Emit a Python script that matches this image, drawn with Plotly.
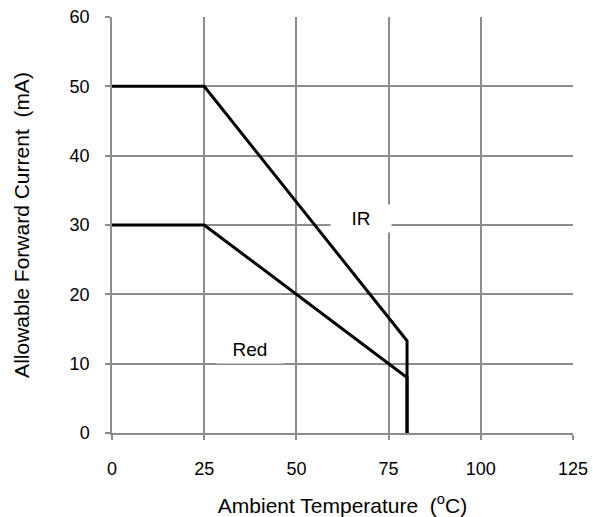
import plotly.graph_objects as go

ir_temp = [0, 25, 80, 80]
ir_current = [50, 50, 13.3, 0]
red_temp = [0, 25, 80, 80]
red_current = [30, 30, 8, 0]

x_ticks = [0, 25, 50, 75, 100, 125]
y_ticks = [0, 10, 20, 30, 40, 50, 60]

labels = ["IR", "Red"]
label_x = [67.5, 37.4]
label_y = [31.0, 12.0]

FONT = "Liberation Sans, Arial, sans-serif"

fig = go.Figure()
fig.add_trace(go.Scatter(x=ir_temp, y=ir_current, mode="lines",
                         line=dict(color="black", width=3), showlegend=False))
fig.add_trace(go.Scatter(x=red_temp, y=red_current, mode="lines",
                         line=dict(color="black", width=3), showlegend=False))

widths = [54, 60]
for t, x, y, w in zip(labels, label_x, label_y, widths):
    fig.add_annotation(x=x, y=y, text=t, showarrow=False, bgcolor="white",
                       font=dict(family=FONT, size=19, color="black"),
                       borderpad=3, width=w, xanchor="center", yanchor="middle")

axis_common = dict(showgrid=True, gridcolor="#8c8c8c", gridwidth=1.5,
                   showline=True, linecolor="#8c8c8c", linewidth=1.5,
                   ticks="outside", ticklen=5, tickcolor="#8c8c8c", tickwidth=1.5,
                   zeroline=False, automargin=False,
                   tickfont=dict(family=FONT, size=18, color="black"))

fig.update_xaxes(range=[0, 125], tickvals=x_ticks, **axis_common,
                 ticklabelstandoff=14,
                 title=dict(text="Ambient Temperature  (<sup>o</sup>C)",
                            font=dict(family=FONT, size=21, color="black"),
                            standoff=21))
fig.update_yaxes(range=[0, 60], tickvals=y_ticks, **axis_common,
                 ticklabelstandoff=12,
                 title=dict(text="Allowable Forward Current  (mA)",
                            font=dict(family=FONT, size=21, color="black"),
                            standoff=34))

fig.update_layout(width=593, height=517, plot_bgcolor="white", paper_bgcolor="white",
                  margin=dict(l=112, r=20, t=17, b=84, autoexpand=False))
fig.write_html("out.html", config={"displayModeBar": False},
               post_script="document.body.style.margin='0';document.body.style.overflow='hidden';")
